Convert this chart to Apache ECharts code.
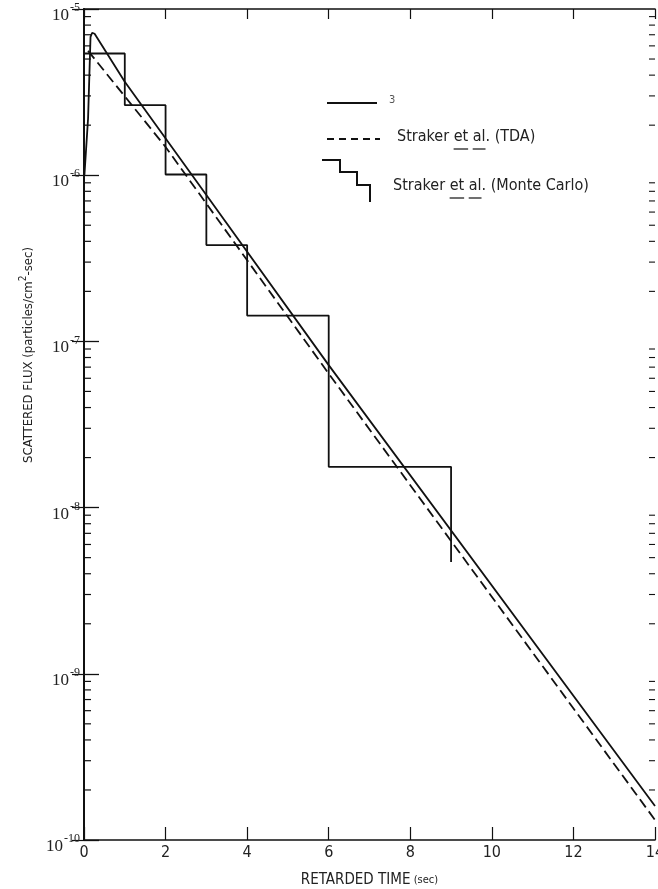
<!DOCTYPE html>
<html lang="en">
  <head>
    <meta charset="UTF-8" />
    <title>Scattered flux vs retarded time</title>
    <script src="https://cdn.jsdelivr.net/npm/echarts@6/dist/echarts.min.js"></script>
    <style>
      html, body { margin: 0; padding: 0; background: #fff; }
      #main { width: 658px; height: 889px; }
    </style>
  </head>
  <body>
    <div id="main"></div>
    <script>
      // curve "3" (solid)
      var solidX = [0.01, 0.1, 0.16, 0.2, 0.26, 1, 3, 6, 14];
      var solidY = [1.0e-6, 2.2e-6, 6.8e-6, 7.2e-6, 7.1e-6, 3.65e-6, 7.6e-7, 7.2e-8, 1.6e-10];

      // Straker et al. (TDA), dashed
      var tdaX = [0.1, 2, 6, 14];
      var tdaY = [5.6e-6, 1.48e-6, 6.4e-8, 1.32e-10];

      // Straker et al. (Monte Carlo), histogram
      var mcEdges = [0, 1, 2, 3, 4, 6, 9];
      var mcLevels = [5.4e-6, 2.64e-6, 1.01e-6, 3.8e-7, 1.43e-7, 1.76e-8];
      var mcTail = 4.7e-9;

      var xTicks = [0, 2, 4, 6, 8, 10, 12, 14];
      var decades = [-10, -9, -8, -7, -6];
      var minorMult = [2, 3, 4, 5, 6, 7, 8, 9];

      var FONT = '"DejaVu Sans Condensed", "DejaVu Sans", sans-serif';

      function pairs(xs, ys) {
        return xs.map(function (x, i) { return [x, ys[i]]; });
      }

      // histogram outline built from the bin edges
      var mcData = [];
      for (var i = 0; i < mcLevels.length; i++) {
        mcData.push([mcEdges[i], mcLevels[i]]);
        mcData.push([mcEdges[i + 1], mcLevels[i]]);
      }
      mcData.push([mcEdges[mcEdges.length - 1], mcTail]);

      var minorData = [];
      decades.forEach(function (e) {
        minorMult.forEach(function (m) { minorData.push([0, m * Math.pow(10, e)]); });
      });

      // legend underlines under "et" and "al"
      var LEG = '16px ' + FONT;
      var ctx = document.createElement('canvas').getContext('2d');
      ctx.font = LEG;
      function underlines(x0, y) {
        var a = ctx.measureText('Straker ').width;
        var b = ctx.measureText('et').width;
        var c = ctx.measureText('Straker et ').width;
        var d = ctx.measureText('al').width;
        return [
          { type: 'line', shape: { x1: x0 + a, y1: y, x2: x0 + a + b, y2: y }, style: { stroke: '#111', lineWidth: 1.2 } },
          { type: 'line', shape: { x1: x0 + c, y1: y, x2: x0 + c + d, y2: y }, style: { stroke: '#111', lineWidth: 1.2 } }
        ];
      }

      var myChart = echarts.init(document.getElementById('main'));

      var SERIF = '"Liberation Serif", serif';
      var yLabel = {
        color: '#222',
        margin: 4,
        formatter: function (v) {
          var e = Math.round(Math.log10(v));
          return '{b|10}{s|' + e + '}';
        },
        rich: {
          b: { fontSize: 17, fontFamily: SERIF, color: '#222', verticalAlign: 'bottom', padding: [0, 0, -8, 0] },
          s: { fontSize: 12, fontFamily: SERIF, color: '#222', verticalAlign: 'bottom', padding: [0, 0, 2, 1] }
        }
      };

      var option = {
        animation: false,
        backgroundColor: '#fff',
        grid: { left: 84, right: 3, top: 9, bottom: 49, containLabel: false, outerBoundsMode: 'none' },
        xAxis: [
          {
            type: 'value',
            min: 0,
            max: 14,
            interval: 2,
            position: 'bottom',
            axisLine: { lineStyle: { color: '#111', width: 1.6 } },
            axisTick: { inside: true, length: 13, lineStyle: { color: '#111', width: 1.2 } },
            splitLine: { show: false },
            axisLabel: {
              fontFamily: FONT,
              fontSize: 16,
              color: '#222',
              margin: 5,
              customValues: xTicks
            },
            name: '{a|RETARDED TIME} {b|(sec)}',
            nameLocation: 'middle',
            nameGap: 33,
            nameTextStyle: {
              rich: {
                a: { fontFamily: FONT, fontSize: 15, color: '#222' },
                b: { fontFamily: FONT, fontSize: 11, color: '#222' }
              }
            }
          },
          {
            type: 'value',
            min: 0,
            max: 14,
            interval: 2,
            position: 'top',
            axisLine: { lineStyle: { color: '#111', width: 1.6 } },
            axisTick: { inside: true, length: 10, lineStyle: { color: '#111', width: 1.2 } },
            axisLabel: { show: false },
            splitLine: { show: false }
          }
        ],
        yAxis: [
          {
            type: 'log',
            logBase: 10,
            min: 1e-10,
            max: 1e-5,
            position: 'left',
            axisLine: { lineStyle: { color: '#111', width: 2 } },
            axisTick: { inside: true, length: 15, lineStyle: { color: '#111', width: 1.3 } },
            splitLine: { show: false },
            axisLabel: yLabel
          },
          {
            type: 'log',
            logBase: 10,
            min: 1e-10,
            max: 1e-5,
            position: 'right',
            axisLine: { lineStyle: { color: '#111', width: 1.6 } },
            axisTick: { inside: true, length: 12, lineStyle: { color: '#111', width: 1.2 } },
            axisLabel: { show: false },
            splitLine: { show: false }
          }
        ],
        series: [
          {
            name: 'minor ticks',
            type: 'custom',
            silent: true,
            clip: false,
            data: minorData,
            renderItem: function (params, api) {
              var v = api.value(1);
              var p = api.coord([0, v]);
              var q = api.coord([14, v]);
              return {
                type: 'group',
                children: [
                  { type: 'line', shape: { x1: p[0], y1: p[1], x2: p[0] + 7, y2: p[1] }, style: { stroke: '#111', lineWidth: 1.2 } },
                  { type: 'line', shape: { x1: q[0] - 6, y1: q[1], x2: q[0], y2: q[1] }, style: { stroke: '#111', lineWidth: 1.1 } }
                ]
              };
            }
          },
          {
            name: '3',
            type: 'line',
            data: pairs(solidX, solidY),
            symbol: 'none',
            lineStyle: { color: '#111', width: 1.8 }
          },
          {
            name: 'Straker et al. (TDA)',
            type: 'line',
            data: pairs(tdaX, tdaY),
            symbol: 'none',
            lineStyle: { color: '#111', width: 1.8, type: [10, 5] }
          },
          {
            name: 'Straker et al. (Monte Carlo)',
            type: 'line',
            data: mcData,
            symbol: 'none',
            lineStyle: { color: '#111', width: 1.8 }
          }
        ],
        graphic: [
          {
            type: 'text',
            x: 27,
            y: 355,
            rotation: Math.PI / 2,
            style: {
              text: '{a|SCATTERED FLUX (particles/cm}{s|2}{a|-sec)}',
              align: 'center',
              verticalAlign: 'middle',
              rich: {
                a: { fontFamily: FONT, fontSize: 13, fill: '#222', verticalAlign: 'bottom' },
                s: { fontFamily: FONT, fontSize: 10, fill: '#222', verticalAlign: 'bottom', padding: [0, 0, 7, 0] }
              }
            }
          },
          // legend
          { type: 'line', shape: { x1: 327, y1: 103, x2: 377, y2: 103 }, style: { stroke: '#111', lineWidth: 2 } },
          { type: 'text', style: { x: 389, y: 100, text: '3', font: '11px ' + FONT, fill: '#555', verticalAlign: 'middle' } },
          { type: 'line', shape: { x1: 327, y1: 139, x2: 380, y2: 139 }, style: { stroke: '#111', lineWidth: 1.8, lineDash: [7, 5] } },
          { type: 'text', style: { x: 397, y: 137, text: 'Straker et al. (TDA)', font: LEG, fill: '#222', verticalAlign: 'middle' } },
          {
            type: 'polyline',
            shape: { points: [[322, 160], [340, 160], [340, 172], [357, 172], [357, 185], [370, 185], [370, 202]] },
            style: { stroke: '#111', lineWidth: 2, fill: null }
          },
          { type: 'text', style: { x: 393, y: 186, text: 'Straker et al. (Monte Carlo)', font: LEG, fill: '#222', verticalAlign: 'middle' } }
        ].concat(underlines(397, 149)).concat(underlines(393, 198))
      };

      myChart.setOption(option);
    </script>
  </body>
</html>
